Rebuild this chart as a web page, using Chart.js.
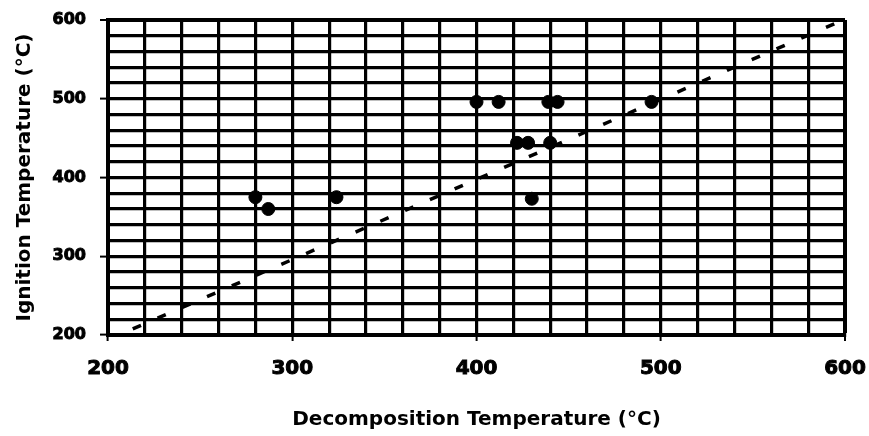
<!DOCTYPE html>
<html>
<head>
<meta charset="utf-8">
<script src="https://cdn.jsdelivr.net/npm/chart.js@4/dist/chart.umd.min.js"></script>
<style>
  html, body { margin: 0; padding: 0; background: #fff; }
  #wrap { width: 869px; height: 436px; }
</style>
</head>
<body>
<div id="wrap"><canvas id="scatter-chart" width="869" height="436"></canvas></div>
<script>
// Measured points: decomposition temp (x) vs ignition temp (y), °C
var decompTemp = [280, 287, 324, 400, 412, 439, 444, 495, 422, 428, 440, 430];
var ignitionTemp = [375, 360, 375, 496, 496, 496, 496, 496, 444, 444, 444, 373];

// Dashed reference line (ignition = decomposition)
var lineX = [200, 595];
var lineY = [194, 596];

var axisMin = 200;
var axisMax = 600;
var gridStep = 20;
var labelStep = 100;

var points = decompTemp.map(function (x, i) { return { x: x, y: ignitionTemp[i] }; });
var refLine = lineX.map(function (x, i) { return { x: x, y: lineY[i] }; });

function tickMark(ctx) {
    return ctx.tick && ctx.tick.value % labelStep === 0 ? "#000" : "rgba(0,0,0,0)";
}
function gridWidth(ctx) {
    return ctx.tick && ctx.tick.value === axisMax ? 4 : 3.2;
}
function tickLabel(value) {
    return value % labelStep === 0 ? value : "";
}

var ctx = document.getElementById("scatter-chart").getContext("2d");
var myChart = new Chart(ctx, {
    type: "scatter",
    data: {
        datasets: [{
            label: "Data",
            data: points,
            backgroundColor: "#000",
            borderColor: "#000",
            pointRadius: 6.5,
            pointHoverRadius: 6.5
        }, {
            label: "y = x",
            data: refLine,
            showLine: true,
            borderColor: "#000",
            borderWidth: 3.5,
            borderDash: [9, 18],
            pointRadius: 0,
            fill: false
        }]
    },
    options: {
        responsive: false,
        animation: false,
        layout: { padding: { left: 0, right: 24, top: 20, bottom: 0 } },
        plugins: {
            legend: { display: false },
            tooltip: { enabled: false }
        },
        scales: {
            x: {
                type: "linear",
                min: axisMin,
                max: axisMax,
                afterFit: function (scale) {
                    scale.height = 101;
                    scale.paddingLeft = 0;
                    scale.paddingRight = 0;
                },
                border: { display: true, color: "#000", width: 4 },
                grid: {
                    color: "#000",
                    lineWidth: gridWidth,
                    tickColor: tickMark,
                    tickLength: 6,
                    tickWidth: 2
                },
                ticks: {
                    stepSize: gridStep,
                    autoSkip: false,
                    maxRotation: 0,
                    padding: 16,
                    color: "#000",
                    textStrokeColor: "#000",
                    textStrokeWidth: 1,
                    font: { family: "DejaVu Sans", size: 20, weight: "bold" },
                    callback: tickLabel
                },
                title: {
                    display: true,
                    text: "Decomposition Temperature (°C)",
                    color: "#000",
                    font: { family: "DejaVu Sans", size: 20, weight: "bold" },
                    padding: { top: 0, bottom: 4 }
                }
            },
            y: {
                type: "linear",
                min: axisMin,
                max: axisMax,
                afterFit: function (scale) {
                    scale.width = 108;
                    scale.paddingTop = 0;
                    scale.paddingBottom = 0;
                },
                border: { display: true, color: "#000", width: 4 },
                grid: {
                    color: "#000",
                    lineWidth: gridWidth,
                    tickColor: tickMark,
                    tickLength: 8,
                    tickWidth: 2
                },
                ticks: {
                    stepSize: gridStep,
                    autoSkip: false,
                    padding: 14,
                    color: "#000",
                    textStrokeColor: "#000",
                    textStrokeWidth: 1,
                    font: { family: "DejaVu Sans", size: 16, weight: "bold" },
                    callback: tickLabel
                },
                title: {
                    display: true,
                    text: "Ignition Temperature (°C)",
                    color: "#000",
                    font: { family: "DejaVu Sans", size: 20, weight: "bold" },
                    padding: { top: 13, bottom: 0 }
                }
            }
        }
    }
});
</script>
</body>
</html>
